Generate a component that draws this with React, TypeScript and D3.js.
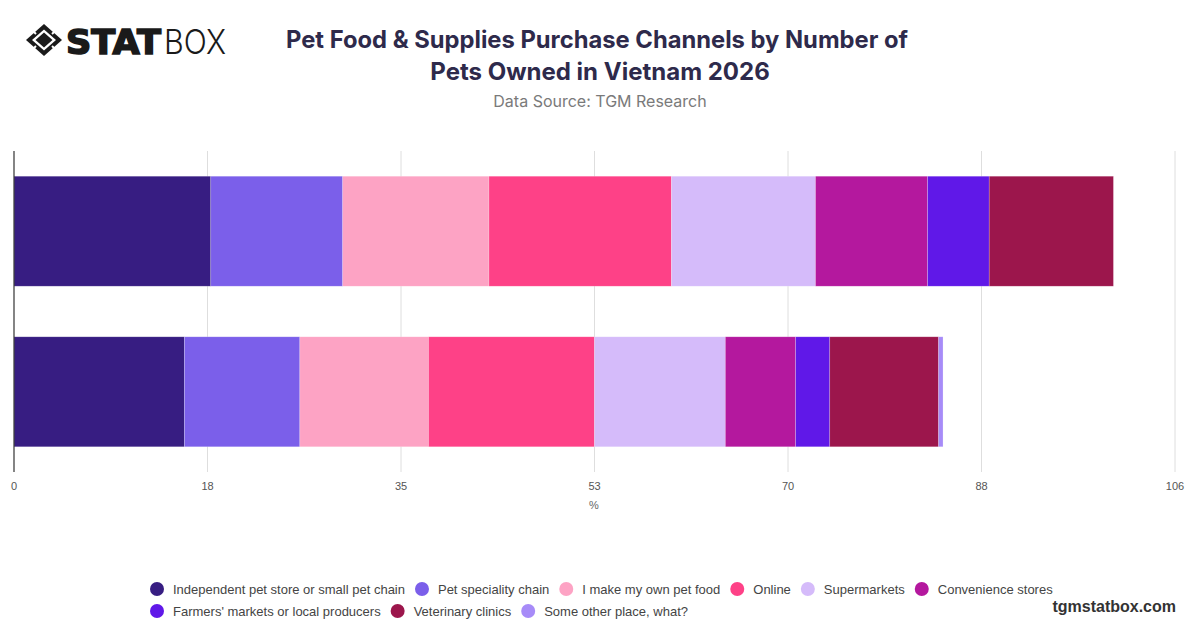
import React from "react";
import * as d3 from "d3";

const categories = ["One pet", "Two or more pets"];
const seriesNames = [
  "Independent pet store or small pet chain",
  "Pet speciality chain",
  "I make my own pet food",
  "Online",
  "Supermarkets",
  "Convenience stores",
  "Farmers' markets or local producers",
  "Veterinary clinics",
  "Some other place, what?",
];
const seriesColors = [
  "#371d82",
  "#7b5fea",
  "#fda3c4",
  "#fe4187",
  "#d5bbfa",
  "#b4189e",
  "#6018e8",
  "#9c164c",
  "#a78bf8",
];
const independent = [17.9, 15.5];
const specialityChain = [12.0, 10.5];
const ownFood = [13.3, 11.7];
const online = [16.6, 15.1];
const supermarkets = [13.1, 11.9];
const convenience = [10.2, 6.4];
const farmers = [5.6, 3.1];
const veterinary = [11.3, 9.9];
const otherPlace = [0, 0.4];
const xTicks = [0, 17.6, 35.2, 52.8, 70.4, 88, 105.6];

const W = 1200;
const H = 628;

function measure(text: string, font: string): number {
  if (typeof document === "undefined") return text.length * 6.3;
  const c = document.createElement("canvas");
  const ctx = c.getContext("2d");
  if (!ctx) return text.length * 6.3;
  ctx.font = font;
  return ctx.measureText(text).width;
}

export default function App() {
  const seriesValues = [
    independent,
    specialityChain,
    ownFood,
    online,
    supermarkets,
    convenience,
    farmers,
    veterinary,
    otherPlace,
  ];
  const rows = categories.map((c, i) => {
    const r: Record<string, any> = { category: c };
    seriesNames.forEach((s, j) => (r[s] = seriesValues[j][i]));
    return r;
  });
  const stack = d3.stack<any>().keys(seriesNames)(rows);

  const x = d3.scaleLinear().domain([0, xTicks[xTicks.length - 1]]).range([14, 1175]);
  const y = d3
    .scaleBand<string>()
    .domain(categories)
    .range([151, 472])
    .paddingInner(0.315)
    .paddingOuter(0.157);

  const legendFont = "13px 'Liberation Sans', Arial, sans-serif";
  const legendItems: { name: string; color: string; x: number; y: number }[] = [];
  let lx = 150;
  let ly = 589;
  const maxX = 1070;
  seriesNames.forEach((name, i) => {
    const w = 23 + measure(name, legendFont) + 10;
    if (lx + w - 10 > maxX) {
      lx = 150;
      ly += 22;
    }
    legendItems.push({ name, color: seriesColors[i], x: lx, y: ly });
    lx += w;
  });

  return (
    <svg
      width={W}
      height={H}
      style={{ position: "absolute", left: 0, top: 0, background: "#fff" }}
      xmlns="http://www.w3.org/2000/svg"
    >
      <rect x={0} y={0} width={W} height={H} fill="#fff" />
      {/* Logo */}
      <g>
        <path d="M44,24 L62,40 L44,56 L26,40 Z" fill="#1a1a1a" />
        <path d="M44,29.5 L56,40 L44,50.5 L32,40 Z" fill="#fff" />
        <path d="M44,32.5 L52.5,40 L44,47.5 L35.5,40 Z" fill="#1a1a1a" />
        <line x1={33} y1={31} x2={36} y2={34} stroke="#fff" strokeWidth={2} />
        <line x1={55} y1={31} x2={52} y2={34} stroke="#fff" strokeWidth={2} />
        <line x1={33} y1={49} x2={36} y2={46} stroke="#fff" strokeWidth={2} />
        <line x1={55} y1={49} x2={52} y2={46} stroke="#fff" strokeWidth={2} />
        <text
          x={66}
          y={54}
          fontFamily="'DejaVu Sans', Inter, sans-serif"
          fontWeight={900}
          fontSize={34}
          fill="#1a1a1a"
          stroke="#1a1a1a"
          strokeWidth={1.6}
          textLength={95}
          lengthAdjust="spacingAndGlyphs"
        >
          STAT
        </text>
        <text
          x={164}
          y={54}
          fontFamily="Inter, 'Noto Sans', sans-serif"
          fontWeight={300}
          fontSize={34}
          fill="#1a1a1a"
          textLength={62}
          lengthAdjust="spacingAndGlyphs"
        >
          BOX
        </text>
      </g>
      {/* Title */}
      <text
        x={597}
        y={48}
        textAnchor="middle"
        fontFamily="Inter, sans-serif"
        fontWeight={700}
        fontSize={24}
        fill="#2e2a4b"
        textLength={622}
        lengthAdjust="spacingAndGlyphs"
      >
        Pet Food &amp; Supplies Purchase Channels by Number of
      </text>
      <text
        x={600}
        y={80}
        textAnchor="middle"
        fontFamily="Inter, sans-serif"
        fontWeight={700}
        fontSize={24}
        fill="#2e2a4b"
      >
        Pets Owned in Vietnam 2026
      </text>
      <text
        x={600}
        y={107}
        textAnchor="middle"
        fontFamily="Inter, sans-serif"
        fontSize={16}
        fill="#7a7a7a"
      >
        Data Source: TGM Research
      </text>

      {/* Grid */}
      {xTicks.slice(1).map((t) => (
        <line key={t} x1={x(t)} x2={x(t)} y1={151} y2={472} stroke="#dedede" strokeWidth={1} />
      ))}

      {/* Bars */}
      {stack.map((layer, i) => (
        <g key={layer.key} fill={seriesColors[i]}>
          {layer.map((d, j) => {
            const w = x(d[1]) - x(d[0]);
            if (w <= 0) return null;
            return (
              <rect
                key={j}
                x={x(d[0])}
                y={y(categories[j])}
                width={w}
                height={y.bandwidth()}
                stroke="#ffffff"
                strokeOpacity={0.35}
                strokeWidth={0.6}
              />
            );
          })}
        </g>
      ))}

      {/* Axis line */}
      <line x1={14} x2={14} y1={151} y2={472} stroke="#333" strokeWidth={1.2} />

      {/* Tick labels */}
      {xTicks.map((t) => (
        <text
          key={t}
          x={x(t)}
          y={490}
          textAnchor="middle"
          fontFamily="'Liberation Sans', Arial, sans-serif"
          fontSize={11}
          fill="#555"
        >
          {Math.round(t)}
        </text>
      ))}
      <text
        x={594}
        y={509}
        textAnchor="middle"
        fontFamily="'Liberation Sans', Arial, sans-serif"
        fontSize={11}
        fill="#666"
      >
        %
      </text>

      {/* Legend */}
      {legendItems.map((it) => (
        <g key={it.name}>
          <circle cx={it.x + 7} cy={it.y} r={7} fill={it.color} />
          <text
            x={it.x + 23}
            y={it.y + 4.5}
            fontFamily="'Liberation Sans', Arial, sans-serif"
            fontSize={13}
            fill="#444"
          >
            {it.name}
          </text>
        </g>
      ))}
      <text
        x={1176}
        y={612}
        textAnchor="end"
        fontFamily="'Liberation Sans', Arial, sans-serif"
        fontWeight={700}
        fontSize={16}
        fill="#333"
      >
        tgmstatbox.com
      </text>
    </svg>
  );
}
